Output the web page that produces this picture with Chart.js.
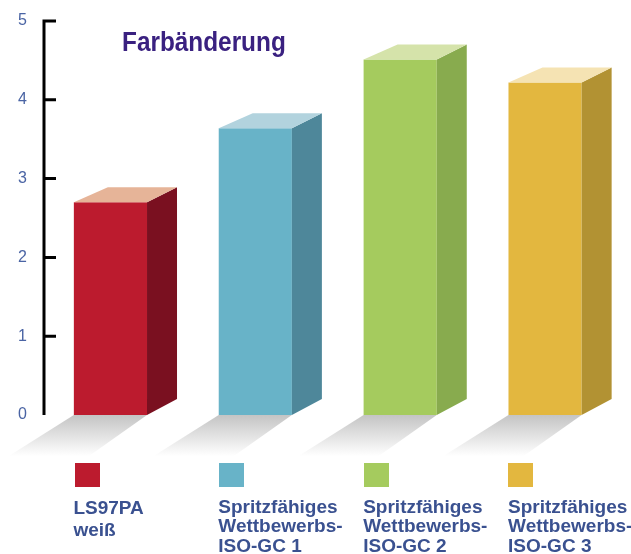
<!DOCTYPE html>
<html>
<head>
<meta charset="utf-8">
<style>
html, body { margin: 0; padding: 0; background: #fff; }
canvas { display: block; }
</style>
<script src="https://cdn.jsdelivr.net/npm/chart.js@4"></script>
</head>
<body>
<canvas id="farbChart" width="631" height="554"></canvas>
<script>
var categories = [
	['LS97PA', 'weiß'],
	['Spritzfähiges', 'Wettbewerbs-', 'ISO-GC 1'],
	['Spritzfähiges', 'Wettbewerbs-', 'ISO-GC 2'],
	['Spritzfähiges', 'Wettbewerbs-', 'ISO-GC 3']
];
var values = [2.7, 3.64, 4.51, 4.22];
var tickValues = [0, 1, 2, 3, 4, 5];

var frontColors = ['#BC1B2E', '#68B3C8', '#A5CB5E', '#E3B73F'];
var sideColors = ['#7A1020', '#4E879A', '#88AB4E', '#B29233'];
var topColors = ['#E6B498', '#B2D3DE', '#D5E3AA', '#F5E3B3'];

var fontName = '"Liberation Sans", Arial, sans-serif';

// 3d sides, floor shadow, swatches, axis and title
var boxPlugin = {
	id: 'box3d',
	beforeDatasetsDraw: function(chart) {
		var ctx = chart.ctx;
		chart.getDatasetMeta(0).data.forEach(function(bar) {
			var l = bar.x - bar.width / 2, r = bar.x + bar.width / 2, b = bar.base;
			var g = ctx.createLinearGradient(0, b, 0, b + 41);
			g.addColorStop(0, '#c4c4c4');
			g.addColorStop(1, '#ffffff');
			ctx.fillStyle = g;
			ctx.beginPath();
			ctx.moveTo(l, b);
			ctx.lineTo(r, b);
			ctx.lineTo(r - 58, b + 41);
			ctx.lineTo(l - 65, b + 41);
			ctx.closePath();
			ctx.fill();
		});
	},
	afterDatasetsDraw: function(chart) {
		var ctx = chart.ctx;
		chart.getDatasetMeta(0).data.forEach(function(bar, i) {
			var l = bar.x - bar.width / 2, r = bar.x + bar.width / 2;
			ctx.fillStyle = sideColors[i];
			ctx.beginPath();
			ctx.moveTo(r, bar.y);
			ctx.lineTo(r + 30, bar.y - 15);
			ctx.lineTo(r + 30, bar.base - 16);
			ctx.lineTo(r, bar.base);
			ctx.closePath();
			ctx.fill();
			ctx.fillStyle = topColors[i];
			ctx.beginPath();
			ctx.moveTo(l, bar.y);
			ctx.lineTo(l + 34, bar.y - 15);
			ctx.lineTo(r + 30, bar.y - 15);
			ctx.lineTo(r, bar.y);
			ctx.closePath();
			ctx.fill();
			ctx.fillStyle = frontColors[i];
			ctx.fillRect(Math.round(l) + (i === 0 ? 1 : 0), 463, 25, 24);
		});

		var y = chart.scales.y;
		ctx.strokeStyle = '#000';
		ctx.lineWidth = 3;
		ctx.beginPath();
		ctx.moveTo(44, y.getPixelForValue(5) - 1.5);
		ctx.lineTo(44, y.getPixelForValue(0));
		tickValues.forEach(function(v) {
			if (v === 0) return;
			ctx.moveTo(44, y.getPixelForValue(v));
			ctx.lineTo(56, y.getPixelForValue(v));
		});
		ctx.stroke();

		// no condensed font installed, squeeze the title sideways
		ctx.save();
		ctx.translate(122, 51);
		ctx.scale(0.87, 1);
		ctx.fillStyle = '#3A2180';
		ctx.font = 'bold 28px ' + fontName;
		ctx.textAlign = 'left';
		ctx.textBaseline = 'alphabetic';
		ctx.fillText('Farbänderung', 0, 0);
		ctx.restore();
	}
};

var chartArea = document.getElementById('farbChart').getContext('2d');
var myChart = new Chart(chartArea, {
	type: 'bar',
	data: {
		labels: categories,
		datasets: [{
			data: values,
			backgroundColor: frontColors,
			borderWidth: 0,
			categoryPercentage: 1,
			barPercentage: 0.505
		}]
	},
	options: {
		responsive: false,
		animation: false,
		layout: { autoPadding: false, padding: { top: 21, right: 13.5, left: 0, bottom: 0 } },
		plugins: { legend: { display: false }, tooltip: { enabled: false } },
		scales: {
			x: {
				afterFit: function(scale) {
					scale.height = 139;
					// align start reserves room for the last label, not wanted here
					scale.paddingRight = 0;
					if (scale._margins) scale._margins.right = 0;
				},
				grid: { display: false, drawTicks: false },
				border: { display: false },
				ticks: {
					maxRotation: 0,
					autoSkip: false,
					align: 'start',
					labelOffset: -37,
					padding: 83,
					color: '#3A5190',
					font: function(c) {
						return { family: fontName, size: 19, weight: 'bold', lineHeight: c.index === 0 ? '22px' : '19.5px' };
					}
				}
			},
			y: {
				min: 0,
				max: 5,
				afterFit: function(scale) { scale.width = 38; },
				afterBuildTicks: function(scale) {
					scale.ticks = tickValues.map(function(v) { return { value: v }; });
				},
				grid: { display: false, drawTicks: false },
				border: { display: false },
				ticks: {
					padding: 11,
					color: '#4A64A4',
					font: { family: fontName, size: 16 }
				}
			}
		}
	},
	plugins: [boxPlugin]
});
</script>
</body>
</html>
